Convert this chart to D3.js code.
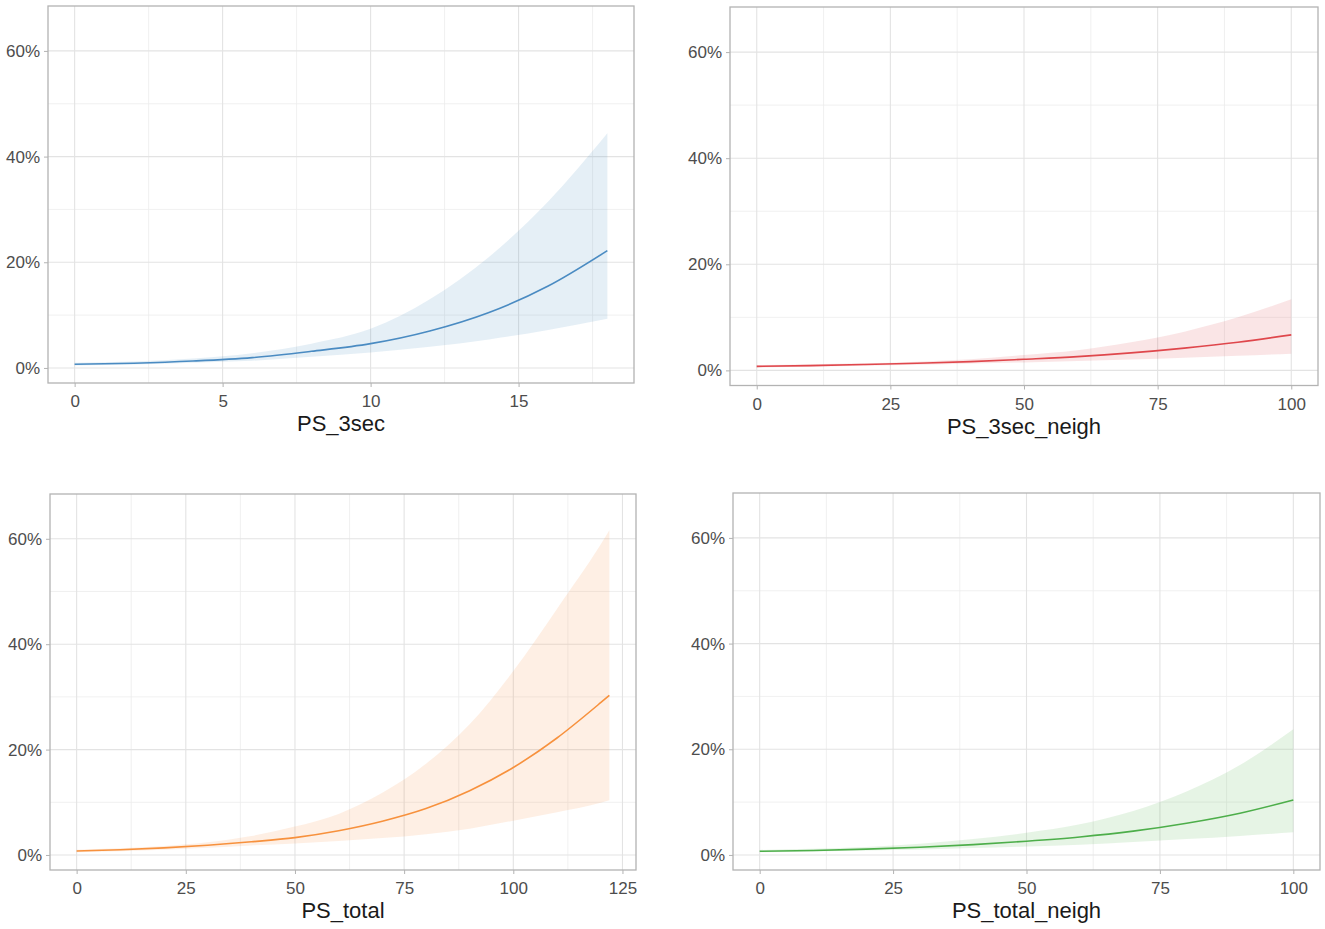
<!DOCTYPE html>
<html>
<head>
<meta charset="utf-8">
<script src="https://cdn.jsdelivr.net/npm/d3@7"></script>
<style>
  body { margin: 0; background: #fff; }
  svg { display: block; font-family: "Liberation Sans", Arial, sans-serif; }
</style>
</head>
<body>
<svg id="chart" width="1325" height="929"></svg>
<script>
// ---- data (probabilities in %) ----
const ps3secX     = [0, 2, 4, 6, 8, 10, 12, 14, 16, 18];
const ps3secFit   = [0.7, 0.9, 1.3, 1.95, 3.15, 4.6, 7.0, 10.5, 15.5, 22.2];
const ps3secUpper = [1.0, 1.2, 1.8, 2.8, 4.6, 7.4, 13.0, 21.0, 31.5, 44.4];
const ps3secLower = [0.45, 0.65, 1.0, 1.35, 2.1, 2.9, 4.0, 5.4, 7.2, 9.3];

const ps3secNeighX     = [0, 10, 20, 30, 40, 50, 60, 70, 80, 90, 100];
const ps3secNeighFit   = [0.75, 0.9, 1.1, 1.35, 1.65, 2.1, 2.6, 3.3, 4.2, 5.3, 6.7];
const ps3secNeighUpper = [1.0, 1.15, 1.35, 1.65, 2.1, 2.9, 3.8, 5.3, 7.3, 10.0, 13.4];
const ps3secNeighLower = [0.55, 0.7, 0.85, 1.05, 1.3, 1.5, 1.75, 2.05, 2.4, 2.75, 3.15];

const psTotalX     = [0, 10, 20, 30, 40, 50, 60, 70, 80, 90, 100, 110, 120, 122];
const psTotalFit   = [0.75, 1.0, 1.35, 1.85, 2.5, 3.3, 4.6, 6.4, 8.8, 12.2, 16.6, 22.2, 28.9, 30.3];
const psTotalUpper = [1.0, 1.3, 1.7, 2.4, 3.6, 5.4, 7.8, 11.8, 17.3, 24.8, 34.9, 46.7, 58.9, 61.6];
const psTotalLower = [0.5, 0.7, 1.0, 1.35, 1.8, 2.2, 2.65, 3.2, 3.95, 5.0, 6.5, 8.1, 9.9, 10.4];

const psTotalNeighX     = [0, 10, 20, 30, 40, 50, 60, 70, 80, 90, 100];
const psTotalNeighFit   = [0.7, 0.85, 1.1, 1.45, 1.95, 2.6, 3.4, 4.5, 6.0, 7.9, 10.4];
const psTotalNeighUpper = [0.95, 1.15, 1.5, 2.1, 3.0, 4.2, 5.8, 8.3, 12.0, 17.0, 23.8];
const psTotalNeighLower = [0.5, 0.65, 0.85, 1.05, 1.3, 1.6, 1.95, 2.45, 3.0, 3.6, 4.3];

const yTicks = [0, 20, 40, 60];
const yMinor = [10, 30, 50];

const panels = [
  { title: "PS_3sec", x: ps3secX, fit: ps3secFit, lo: ps3secLower, hi: ps3secUpper,
    xTicks: [0, 5, 10, 15], xMinor: [2.5, 7.5, 12.5, 17.5], xDom: [-0.9, 18.9],
    color: "#4a8bc2", box: [48, 6, 634, 383] },
  { title: "PS_3sec_neigh", x: ps3secNeighX, fit: ps3secNeighFit, lo: ps3secNeighLower, hi: ps3secNeighUpper,
    xTicks: [0, 25, 50, 75, 100], xMinor: [12.5, 37.5, 62.5, 87.5], xDom: [-5, 105],
    color: "#df474c", box: [730, 7, 1318, 385.5] },
  { title: "PS_total", x: psTotalX, fit: psTotalFit, lo: psTotalLower, hi: psTotalUpper,
    xTicks: [0, 25, 50, 75, 100, 125], xMinor: [12.5, 37.5, 62.5, 87.5, 112.5], xDom: [-6.1, 128.1],
    color: "#f7913d", box: [50, 494, 636, 870] },
  { title: "PS_total_neigh", x: psTotalNeighX, fit: psTotalNeighFit, lo: psTotalNeighLower, hi: psTotalNeighUpper,
    xTicks: [0, 25, 50, 75, 100], xMinor: [12.5, 37.5, 62.5, 87.5], xDom: [-5, 105],
    color: "#4dae4a", box: [733, 493, 1320, 870] }
];

const svg = d3.select("#chart");

panels.forEach(function(p) {
  const [x0, y0, x1, y1] = p.box;
  const w = x1 - x0, h = y1 - y0;
  const g = svg.append("g").attr("transform", `translate(${x0},${y0})`);

  const x = d3.scaleLinear().domain(p.xDom).range([0, w]);
  const y = d3.scaleLinear().domain([-2.85, 68.5]).range([h, 0]);

  // grid
  g.selectAll(".xminor").data(p.xMinor).enter().append("line")
    .attr("x1", d => x(d)).attr("x2", d => x(d)).attr("y1", 0).attr("y2", h)
    .attr("stroke", "#ececec").attr("stroke-width", 0.8);
  g.selectAll(".yminor").data(yMinor).enter().append("line")
    .attr("y1", d => y(d)).attr("y2", d => y(d)).attr("x1", 0).attr("x2", w)
    .attr("stroke", "#ececec").attr("stroke-width", 0.8);
  g.selectAll(".xmajor").data(p.xTicks).enter().append("line")
    .attr("x1", d => x(d)).attr("x2", d => x(d)).attr("y1", 0).attr("y2", h)
    .attr("stroke", "#e3e3e3").attr("stroke-width", 1.1);
  g.selectAll(".ymajor").data(yTicks).enter().append("line")
    .attr("y1", d => y(d)).attr("y2", d => y(d)).attr("x1", 0).attr("x2", w)
    .attr("stroke", "#e3e3e3").attr("stroke-width", 1.1);

  const rows = p.x.map((v, i) => ({ x: v, fit: p.fit[i], lo: p.lo[i], hi: p.hi[i] }));

  const area = d3.area()
    .x(d => x(d.x)).y0(d => y(d.lo)).y1(d => y(d.hi))
    .curve(d3.curveMonotoneX);
  g.append("path").datum(rows).attr("d", area)
    .attr("fill", p.color).attr("fill-opacity", 0.14);

  const line = d3.line().x(d => x(d.x)).y(d => y(d.fit)).curve(d3.curveMonotoneX);
  g.append("path").datum(rows).attr("d", line)
    .attr("fill", "none").attr("stroke", p.color).attr("stroke-width", 1.6);

  // border
  g.append("rect").attr("width", w).attr("height", h)
    .attr("fill", "none").attr("stroke", "#b3b3b3").attr("stroke-width", 1.3);

  // x axis
  const xa = d3.axisBottom(x).tickValues(p.xTicks).tickSize(4).tickPadding(8);
  const gx = g.append("g").attr("transform", `translate(0,${h})`).call(xa);
  gx.select(".domain").remove();
  gx.selectAll("line").attr("stroke", "#b3b3b3");
  gx.selectAll("text").attr("fill", "#4d4d4d").style("font-size", "17px")
    .attr("font-family", null);

  // y axis
  const ya = d3.axisLeft(y).tickValues(yTicks).tickSize(4).tickPadding(4)
    .tickFormat(d => d + "%");
  const gy = g.append("g").call(ya);
  gy.select(".domain").remove();
  gy.selectAll("line").attr("stroke", "#b3b3b3");
  gy.selectAll("text").attr("fill", "#4d4d4d").style("font-size", "17px")
    .attr("font-family", null);

  g.append("text").attr("x", w / 2).attr("y", h + 48)
    .attr("text-anchor", "middle").attr("fill", "#1a1a1a")
    .style("font-size", "22px").text(p.title);
});
</script>
</body>
</html>
